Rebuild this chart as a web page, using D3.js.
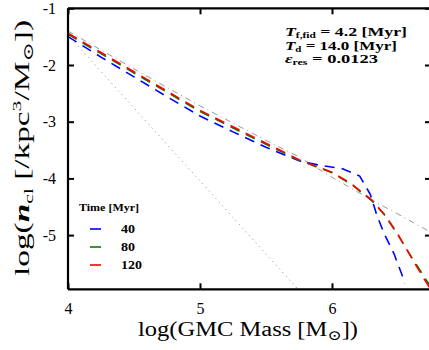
<!DOCTYPE html>
<html>
<head>
<meta charset="utf-8">
<script src="https://cdn.jsdelivr.net/npm/d3@7"></script>
<style>
  body { margin: 0; background: #fff; }
  text { font-family: "Liberation Serif", "DejaVu Serif", serif; }
</style>
</head>
<body>
<script>
// GMC mass function, log(M) on x, log(n_cl) on y
const massBlue = [4.0, 4.25, 4.5, 4.75, 5.0, 5.25, 5.5, 5.75, 5.91, 6.08, 6.21, 6.29, 6.34, 6.40, 6.47, 6.53, 6.55];
const nBlue = [-1.50, -1.86, -2.21, -2.56, -2.90, -3.18, -3.45, -3.69, -3.77, -3.83, -3.96, -4.28, -4.65, -5.00, -5.33, -5.70, -5.85];

const massRed = [4.0, 4.25, 4.5, 4.75, 5.0, 5.25, 5.5, 5.75, 6.0, 6.15, 6.3, 6.4, 6.5, 6.6, 6.7, 6.75];
const nRed = [-1.44, -1.78, -2.12, -2.46, -2.80, -3.09, -3.38, -3.67, -3.89, -4.10, -4.38, -4.64, -4.99, -5.39, -5.78, -5.97];
const nGreen = [-1.46, -1.80, -2.14, -2.48, -2.82, -3.11, -3.40, -3.68, -3.90, -4.11, -4.39, -4.65, -5.00, -5.38, -5.74, -5.92];

const massFit = [4.0, 4.5, 5.0, 5.5, 5.75, 6.0, 6.3, 6.5, 6.75];
const nFit = [-1.40, -2.07, -2.72, -3.33, -3.62, -3.98, -4.38, -4.63, -4.95];

const massSlope = [4.0, 5.74, 6.0];
const nSlope = [-1.47, -5.95, -6.62];

const times = ["40", "80", "120"];
const colors = ["#0000ff", "#008000", "#ff0000"];

const xTicks = [4, 5, 6];
const yTicks = [-1, -2, -3, -4, -5];

const width = 429, height = 350;
const mLeft = 68, mTop = 8.3, mRight = 431, mBottom = 289.3;

const svg = d3.select("body").append("svg")
  .attr("width", width).attr("height", height);

const x = d3.scaleLinear().domain([4, 6.75]).range([mLeft, mRight]);
const y = d3.scaleLinear().domain([-1, -5.956]).range([mTop, mBottom]);

svg.append("clipPath").attr("id", "plot")
  .append("rect").attr("x", mLeft).attr("y", mTop)
  .attr("width", mRight - mLeft).attr("height", mBottom - mTop);

const line = d3.line().x(d => x(d[0])).y(d => y(d[1]));
const g = svg.append("g").attr("clip-path", "url(#plot)");

g.append("path").datum(d3.zip(massSlope, nSlope))
  .attr("d", line).attr("fill", "none")
  .attr("stroke", "#888").attr("stroke-width", 1)
  .attr("stroke-dasharray", "1,4");

g.append("path").datum(d3.zip(massFit, nFit))
  .attr("d", line).attr("fill", "none")
  .attr("stroke", "#999").attr("stroke-width", 1)
  .attr("stroke-dasharray", "6,4,1,4");

const series = [d3.zip(massBlue, nBlue), d3.zip(massRed, nGreen), d3.zip(massRed, nRed)];
series.forEach((s, i) => {
  g.append("path").datum(s)
    .attr("d", line).attr("fill", "none")
    .attr("stroke", colors[i]).attr("stroke-width", 1.6)
    .attr("stroke-dasharray", "10,7");
});

// axes, ticks inward
const fmt = d => d3.format("d")(d).replace("−", "-");
const axB = svg.append("g").attr("transform", `translate(0,${mBottom})`)
  .call(d3.axisBottom(x).tickValues(xTicks).tickSize(-6).tickPadding(13).tickFormat(fmt));
const axT = svg.append("g").attr("transform", `translate(0,${mTop})`)
  .call(d3.axisTop(x).tickValues(xTicks).tickSize(-6).tickFormat(""));
const axL = svg.append("g").attr("transform", `translate(${mLeft},0)`)
  .call(d3.axisLeft(y).tickValues(yTicks).tickSize(-6).tickPadding(12).tickFormat(fmt));
const axR = svg.append("g").attr("transform", `translate(${mRight},0)`)
  .call(d3.axisRight(y).tickValues(yTicks).tickSize(-6).tickFormat(""));

[axB, axT, axL, axR].forEach(a => {
  a.select(".domain").attr("stroke", "#000").attr("stroke-width", 2.2);
  a.selectAll(".tick line").attr("stroke", "#000").attr("stroke-width", 2);
  a.selectAll(".tick text").attr("font-size", 16).attr("fill", "#000")
    .style("font-family", "'Liberation Serif', serif");
});
axB.select(".domain").attr("d", `M${mLeft},0H${mRight}`);
axT.select(".domain").attr("d", `M${mLeft},0H${mRight}`);
axL.select(".domain").attr("d", `M0,${mTop}V${mBottom}`);
axR.select(".domain").attr("d", `M0,${mTop}V${mBottom}`);

// axis labels
const xl = svg.append("text").attr("x", 138).attr("y", 336)
  .attr("font-size", 20).attr("textLength", 220).attr("lengthAdjust", "spacingAndGlyphs");
xl.append("tspan").text("log(GMC Mass [M");
xl.append("tspan").attr("font-size", 14).attr("dy", 4).text("⊙");
xl.append("tspan").attr("dy", -4).text("])");

const yl = svg.append("text").attr("transform", "translate(29,276) rotate(-90)")
  .attr("font-size", 20).attr("textLength", 256).attr("lengthAdjust", "spacingAndGlyphs");
yl.append("tspan").text("log(");
yl.append("tspan").attr("font-style", "italic").attr("font-weight", "bold").text("n");
yl.append("tspan").attr("font-size", 13).attr("dy", 4).text("cl");
yl.append("tspan").attr("dy", -4).text(" [/kpc");
yl.append("tspan").attr("font-size", 13).attr("dy", -8).text("3");
yl.append("tspan").attr("dy", 8).text("/M");
yl.append("tspan").attr("font-size", 14).attr("dy", 4).text("⊙");
yl.append("tspan").attr("dy", -4).text("])");

// annotation
const notes = [
  [["T", "italic"], ["f,fid", "sub"], ["  = 4.2 [Myr]", ""]],
  [["T", "italic"], ["d", "sub"], ["  = 14.0 [Myr]", ""]],
  [["ε", "italic"], ["res", "sub"], [" = 0.0123", ""]]
];
const noteWidths = [122, 112, 93];
notes.forEach((parts, i) => {
  const t = svg.append("text").attr("x", 285).attr("y", 36 + i * 13.5)
    .attr("font-size", 12.5).attr("font-weight", "bold")
    .attr("textLength", noteWidths[i]).attr("lengthAdjust", "spacingAndGlyphs");
  parts.forEach(p => {
    const ts = t.append("tspan").text(p[0]);
    if (p[1] === "italic") ts.attr("font-style", "italic");
    if (p[1] === "sub") ts.attr("font-size", 8).attr("dy", 2);
    if (p[1] === "") ts.attr("dy", -2);
  });
});

// legend
svg.append("text").attr("x", 79).attr("y", 211).attr("font-size", 10)
  .attr("font-weight", "bold").attr("textLength", 60).attr("lengthAdjust", "spacingAndGlyphs")
  .text("Time [Myr]");
times.forEach((t, i) => {
  const yy = 229 + i * 18;
  svg.append("line").attr("x1", 90).attr("x2", 101).attr("y1", yy).attr("y2", yy)
    .attr("stroke", colors[i]).attr("stroke-width", 1.6);
  svg.append("text").attr("x", 121).attr("y", yy + 4).attr("font-size", 12)
    .attr("font-weight", "bold").attr("textLength", i === 2 ? 21 : 14)
    .attr("lengthAdjust", "spacingAndGlyphs").text(t);
});
</script>
</body>
</html>
